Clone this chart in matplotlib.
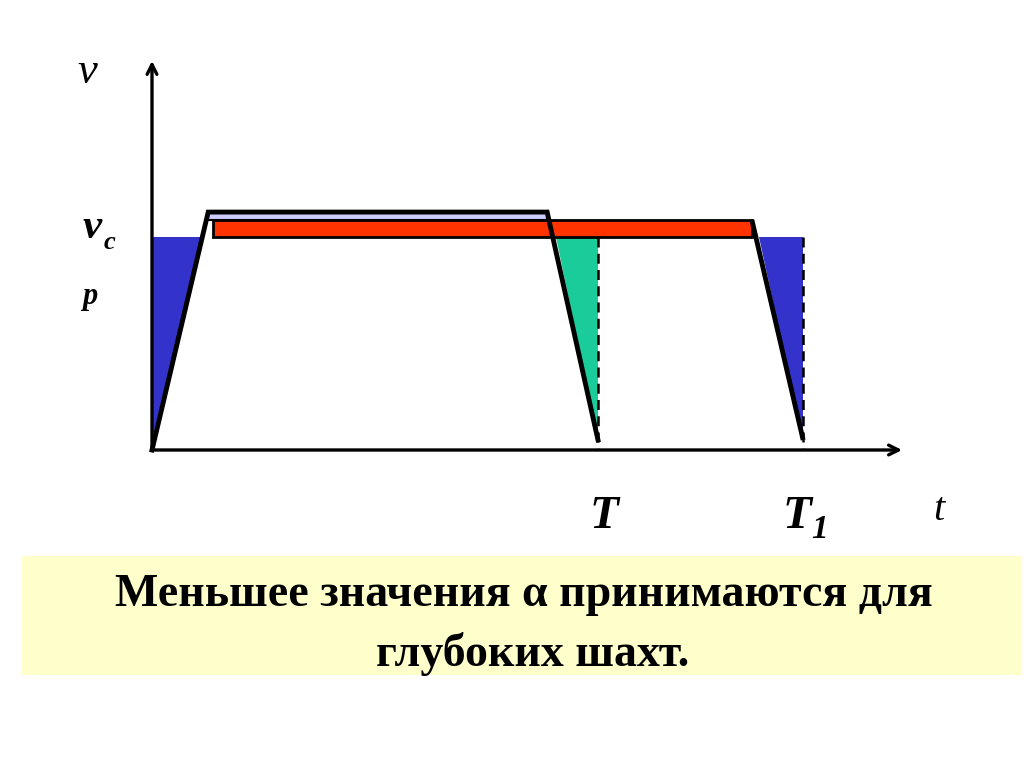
import matplotlib.pyplot as plt
from matplotlib.patches import Polygon, Rectangle

# key times (T = 10 units) and speeds (v_c = 1)
T = 10.0
T1 = 14.6
vc = 1.0
v_end = 0.047          # lines stop just above the t axis

# first trapezoid (black outline)
trap1_t = [0.0, 1.26, 8.86, T]
trap1_v = [0.0, 1.117, 1.117, v_end]

# second trapezoid: only its falling edge is drawn as a thick line
dec2_t = [13.45, T1]
dec2_v = [1.08, v_end]

# bars on top
lav_t = [1.26, 8.86]
lav_v = [1.08, 1.117]
red_t = [1.37, 13.45]
red_v = [vc, 1.08]

# filled triangles (t, v)
blue_left = [(0.0, vc), (1.13, vc), (0.0, v_end)]
green_tri = [(9.06, vc), (T, vc), (T, v_end)]
blue_right = [(13.62, vc), (T1, vc), (T1, v_end)]

t_axis_end = 16.88
v_axis_end = 1.84

caption = ["Меньшее значения \u03b1 принимаются для", "глубоких шахт."]

# pixel scale used to lay the figure out
kx = 44.6   # px per t unit
ky = 213.0  # px per v unit
x0, y0 = 152, 450

fig = plt.figure(figsize=(10.24, 7.67), dpi=100)
ax = fig.add_axes([0, 0, 1, 1])
ax.set_xlim(-x0 / kx, (1024 - x0) / kx)
ax.set_ylim((y0 - 767) / ky, y0 / ky)
ax.axis('off')

serif = 'Liberation Serif'
blue = '#3333CC'
green = '#19CC99'
red = '#FF3300'
lav = '#CCCCFF'

# fills
ax.add_patch(Polygon(blue_left, closed=True, facecolor=blue, edgecolor='none', zorder=1))
ax.add_patch(Polygon(green_tri, closed=True, facecolor=green, edgecolor='none', zorder=1))
ax.add_patch(Polygon(blue_right, closed=True, facecolor=blue, edgecolor='none', zorder=1))

# bars
ax.add_patch(Rectangle((lav_t[0], lav_v[0]), lav_t[1] - lav_t[0], lav_v[1] - lav_v[0],
                       facecolor=lav, edgecolor='black', lw=1.5, zorder=2))
ax.add_patch(Rectangle((red_t[0], red_v[0]), red_t[1] - red_t[0], red_v[1] - red_v[0],
                       facecolor=red, edgecolor='black', lw=2.0, zorder=3))

# trapezoid lines
ax.plot(trap1_t, trap1_v, color='black', lw=3.5, solid_joinstyle='miter', zorder=4)
ax.plot(dec2_t, dec2_v, color='black', lw=3.5, solid_capstyle='butt', zorder=4)

# dashed verticals
for tt in (T, T1):
    ax.plot([tt, tt], [vc, 0], color='black', lw=1.8, ls=(0, (4, 2.5)), zorder=5)

# axes with arrows
ax.annotate('', xy=(t_axis_end, 0), xytext=(0, 0),
            arrowprops=dict(arrowstyle='->,head_length=0.7,head_width=0.35', lw=2.4, color='black'))
ax.annotate('', xy=(0, v_axis_end), xytext=(0, 0),
            arrowprops=dict(arrowstyle='->,head_length=0.7,head_width=0.35', lw=2.4, color='black'))

# axis labels (pixel positions converted to data)
def px(x, y):
    return (x - x0) / kx, (y0 - y) / ky

ax.text(*px(77, 83), 'v', family=serif, style='italic', fontsize=32, va='baseline', ha='left')
ax.text(*px(933, 520), 't', family=serif, style='italic', fontsize=29, va='baseline', ha='left')
ax.text(*px(83, 238), 'v', family=serif, style='italic', weight='bold', fontsize=31,
        va='baseline', ha='left')
ax.text(*px(104, 249), 'c', family=serif, style='italic', weight='bold', fontsize=19,
        va='baseline', ha='left')
ax.text(*px(82, 304), 'p', family=serif, style='italic', weight='bold', fontsize=22,
        va='baseline', ha='left')
ax.text(*px(590, 528), 'T', family=serif, style='italic', weight='bold', fontsize=34,
        va='baseline', ha='left')
ax.text(*px(783, 528), 'T', family=serif, style='italic', weight='bold', fontsize=34,
        va='baseline', ha='left')
ax.text(*px(811, 538), '1', family=serif, style='italic', weight='bold', fontsize=24,
        va='baseline', ha='left')

# caption box
fig.patches.append(Rectangle((22 / 1024, 1 - 675 / 767), (1022 - 22) / 1024, (675 - 556) / 767,
                             transform=fig.transFigure, facecolor='#FFFFCC', edgecolor='none',
                             zorder=0))
fig.text(524 / 1024, 1 - 606 / 767, caption[0], family=serif, weight='bold', fontsize=33,
         ha='center', va='baseline')
fig.text(533 / 1024, 1 - 666 / 767, caption[1], family=serif, weight='bold', fontsize=33,
         ha='center', va='baseline')

fig.savefig('out.png', dpi=100)
